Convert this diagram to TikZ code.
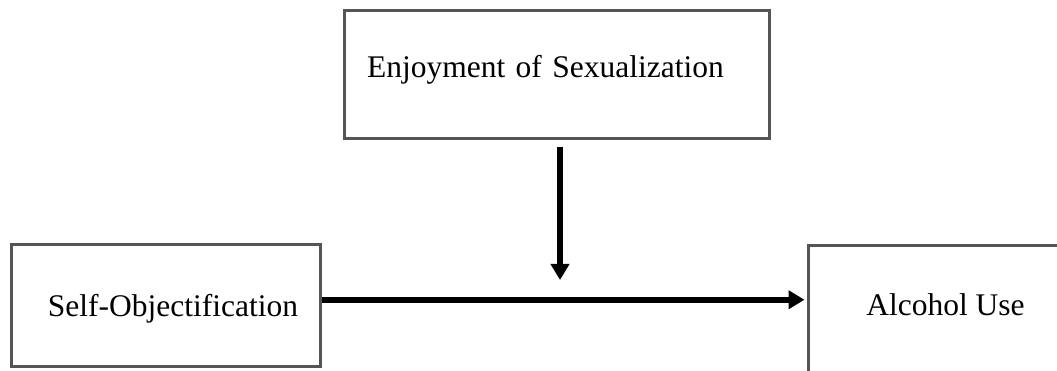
\documentclass[tikz,border=0pt]{standalone}
\usepackage{fontspec}
\setmainfont{Liberation Serif}
\usetikzlibrary{%
  arrows.meta,
  positioning,
  calc
}
\definecolor{boxgray}{HTML}{555555}
\tikzstyle{varblock}=[draw=boxgray, line width=3pt, rectangle, font=\fontsize{31.5}{36}\selectfont]
\tikzstyle{link} = [line width=5.5pt, -{Triangle[width=18pt,length=16pt]}]

\begin{document}
\begin{tikzpicture}[auto, x=1pt, y=-1pt]
        \useasboundingbox (0,0) rectangle (1057,371);
        \node[varblock, inner xsep=22.5pt, text width=379.5pt, align=left, minimum height=128pt, text height=22pt, text depth=15pt] (enjoy) at (556.75,74.5) {Enjoyment of Sexualization};
        \node[varblock, inner xsep=22pt, text width=265pt, align=right, minimum height=121.5pt, text height=22pt, text depth=0pt] (selfobj) at (165.5,305.75) {Self-Objectification};
        \node[varblock, minimum width=275pt, minimum height=139pt, text height=20pt, text depth=20pt] (alcohol) at (945.5,315) {Alcohol Use};
        \coordinate (modpt) at (560,280);
        \draw[link, shorten <=7pt](enjoy.south -| modpt) -- (modpt);
        \draw[link, shorten >=2pt]([yshift=6pt]selfobj.east) -- ([yshift=6pt]selfobj.east -| alcohol.west);
      \end{tikzpicture}
\end{document}
